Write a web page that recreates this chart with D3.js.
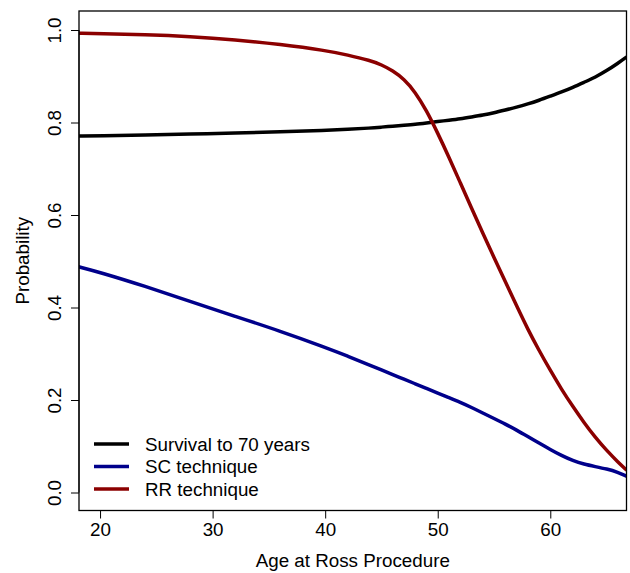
<!DOCTYPE html>
<html>
<head>
<meta charset="utf-8">
<script src="https://cdn.jsdelivr.net/npm/d3@7"></script>
<style>
  body { margin: 0; background: #fff; }
  text { font-family: "Liberation Sans", Arial, Helvetica, sans-serif; fill: #000; }
</style>
</head>
<body>
<div id="chart"></div>
<script>
var svgWidth = 630;
var svgHeight = 573;
var fontSize = 18.8;

// plot box (R style)
var box = { left: 79, right: 626.5, top: 11, bottom: 510.5 };

// data
var ages = [18.1, 20, 24, 28, 32, 36, 40, 42, 44, 45, 46, 47, 48, 49, 50, 51, 52, 53, 54, 55,
            56, 57, 58, 59, 60, 61, 62, 63, 64, 65, 66, 66.8];
var survival = [0.771, 0.771, 0.773, 0.775, 0.777, 0.780, 0.783, 0.785, 0.788, 0.790, 0.792, 0.794,
                0.796, 0.799, 0.802, 0.805, 0.808, 0.812, 0.816, 0.821, 0.827, 0.833, 0.840, 0.848,
                0.857, 0.866, 0.876, 0.887, 0.898, 0.912, 0.928, 0.942];
var scTechnique = [0.488, 0.476, 0.446, 0.413, 0.381, 0.349, 0.314, 0.295, 0.275, 0.265, 0.255, 0.245,
                   0.235, 0.225, 0.215, 0.205, 0.195, 0.184, 0.172, 0.160, 0.148, 0.135, 0.121, 0.107,
                   0.093, 0.080, 0.069, 0.061, 0.056, 0.051, 0.044, 0.035];
var rrTechnique = [0.993, 0.992, 0.990, 0.986, 0.979, 0.969, 0.956, 0.946, 0.934, 0.925, 0.912, 0.894,
                   0.866, 0.826, 0.777, 0.725, 0.670, 0.615, 0.561, 0.508, 0.456, 0.404, 0.353, 0.307,
                   0.264, 0.223, 0.186, 0.151, 0.119, 0.091, 0.066, 0.048];

var xTicks = [20, 30, 40, 50, 60];
var yTicks = [0.0, 0.2, 0.4, 0.6, 0.8, 1.0];

var seriesNames = ["Survival to 70 years", "SC technique", "RR technique"];
var seriesColors = ["#000000", "#00008b", "#8b0000"];
var seriesValues = [survival, scTechnique, rrTechnique];

var svg = d3.select("#chart")
  .append("svg")
  .attr("width", svgWidth)
  .attr("height", svgHeight);

// scales
var xScale = d3.scaleLinear()
  .domain([18.13, 66.77])
  .range([box.left, box.right]);

var yScale = d3.scaleLinear()
  .domain([0, 1])
  .range([492.5, 30]);

// clip lines to the box
svg.append("clipPath")
  .attr("id", "clip")
  .append("rect")
  .attr("x", box.left)
  .attr("y", box.top)
  .attr("width", box.right - box.left)
  .attr("height", box.bottom - box.top);

// lines
var line = d3.line()
  .x(d => xScale(d[0]))
  .y(d => yScale(d[1]))
  .curve(d3.curveBasis);

seriesValues.forEach(function(vals, i) {
  svg.append("path")
    .datum(ages.map((a, j) => [a, vals[j]]))
    .attr("clip-path", "url(#clip)")
    .attr("fill", "none")
    .attr("stroke", seriesColors[i])
    .attr("stroke-width", 3.5)
    .attr("d", line);
});

// box
svg.append("rect")
  .attr("x", box.left)
  .attr("y", box.top)
  .attr("width", box.right - box.left)
  .attr("height", box.bottom - box.top)
  .attr("fill", "none")
  .attr("stroke", "#000")
  .attr("stroke-width", 1.3);

// x axis
var xAxis = svg.append("g")
  .attr("transform", `translate(0, ${box.bottom})`)
  .call(d3.axisBottom(xScale).tickValues(xTicks).tickSize(8).tickPadding(4).tickFormat(d3.format("d")));
xAxis.select(".domain")
  .attr("d", `M${xScale(20)},0H${xScale(60)}`);
xAxis.selectAll("text")
  .attr("font-size", fontSize)
  .attr("font-family", "Liberation Sans, Arial, sans-serif");

// y axis
var yAxis = svg.append("g")
  .attr("transform", `translate(${box.left}, 0)`)
  .call(d3.axisLeft(yScale).tickValues(yTicks).tickSize(8).tickFormat(d3.format(".1f")));
yAxis.select(".domain")
  .attr("d", `M0,${yScale(0)}V${yScale(1)}`);
yAxis.selectAll("text")
  .attr("font-size", fontSize)
  .attr("font-family", "Liberation Sans, Arial, sans-serif")
  .attr("text-anchor", "middle")
  .attr("x", 0)
  .attr("dy", 0)
  .attr("transform", "translate(-18, 0) rotate(-90)");

// axis titles
svg.append("text")
  .attr("x", (box.left + box.right) / 2)
  .attr("y", 567)
  .attr("text-anchor", "middle")
  .attr("font-size", fontSize)
  .text("Age at Ross Procedure");

svg.append("text")
  .attr("transform", `translate(29, ${(box.top + box.bottom) / 2}) rotate(-90)`)
  .attr("text-anchor", "middle")
  .attr("font-size", fontSize)
  .text("Probability");

// legend
var legend = svg.append("g");
seriesNames.forEach(function(name, i) {
  var y = 444 + i * 22.5;
  legend.append("line")
    .attr("x1", 94)
    .attr("x2", 129)
    .attr("y1", y)
    .attr("y2", y)
    .attr("stroke", seriesColors[i])
    .attr("stroke-width", 3.5);
  legend.append("text")
    .attr("x", 145)
    .attr("y", y + 6.5)
    .attr("font-size", fontSize)
    .text(name);
});
</script>
</body>
</html>
